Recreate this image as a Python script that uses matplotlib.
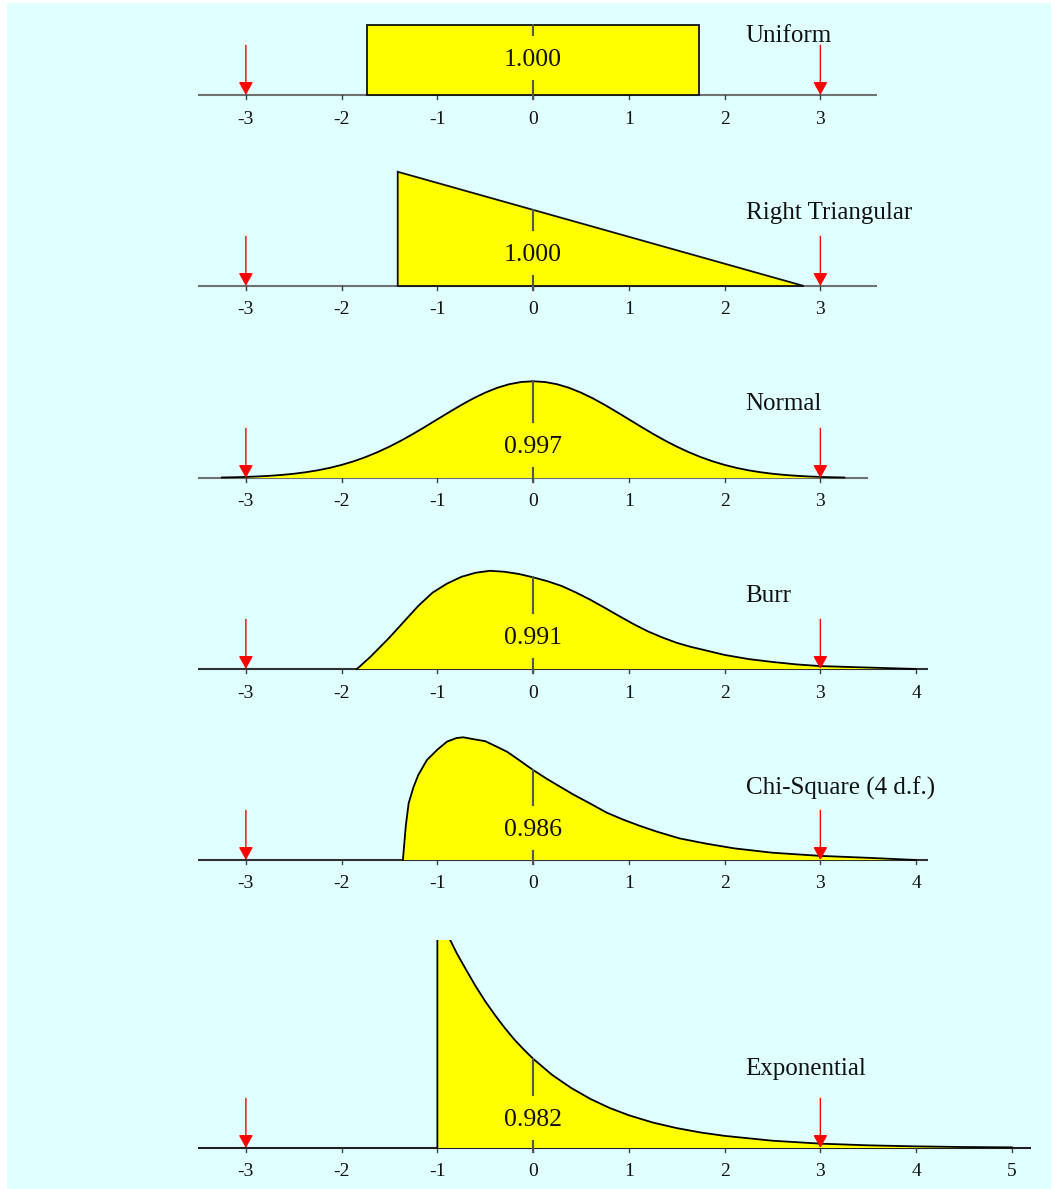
import matplotlib
matplotlib.use("Agg")
import matplotlib.pyplot as plt

# ---- data -------------------------------------------------------------
names = ["Uniform", "Right Triangular", "Normal", "Burr",
         "Chi-Square (4 d.f.)", "Exponential"]
coverage = ["1.000", "1.000", "0.997", "0.991", "0.986", "0.982"]

uniform_x = [-1.732, -1.732, 1.732, 1.732]
uniform_y = [0.0, 0.2887, 0.2887, 0.0]

tri_x = [-1.414, -1.414, 2.828]
tri_y = [0.0, 0.471, 0.0]

normal_x = [-3.25, -3.125, -3.0, -2.875, -2.75, -2.625, -2.5, -2.375, -2.25,
            -2.125, -2.0, -1.875, -1.75, -1.625, -1.5, -1.375, -1.25, -1.125,
            -1.0, -0.875, -0.75, -0.625, -0.5, -0.375, -0.25, -0.125, 0.0,
            0.125, 0.25, 0.375, 0.5, 0.625, 0.75, 0.875, 1.0, 1.125, 1.25,
            1.375, 1.5, 1.625, 1.75, 1.875, 2.0, 2.125, 2.25, 2.375, 2.5,
            2.625, 2.75, 2.875, 3.0, 3.125, 3.25]
normal_y = [0.002, 0.003, 0.0044, 0.0064, 0.0091, 0.0127, 0.0175, 0.0238,
            0.0317, 0.0417, 0.054, 0.0688, 0.0863, 0.1066, 0.1295, 0.155,
            0.1826, 0.2119, 0.242, 0.272, 0.3011, 0.3282, 0.3521, 0.3719,
            0.3867, 0.3958, 0.3989, 0.3958, 0.3867, 0.3719, 0.3521, 0.3282,
            0.3011, 0.272, 0.242, 0.2119, 0.1826, 0.155, 0.1295, 0.1066,
            0.0863, 0.0688, 0.054, 0.0417, 0.0317, 0.0238, 0.0175, 0.0127,
            0.0091, 0.0064, 0.0044, 0.003, 0.002]

burr_x = [-1.84, -1.7, -1.5, -1.35, -1.2, -1.05, -0.9, -0.75, -0.6, -0.45,
          -0.3, -0.15, 0.0, 0.15, 0.3, 0.45, 0.6, 0.75, 0.9, 1.05, 1.2,
          1.35, 1.5, 1.65, 1.8, 2.0, 2.25, 2.5, 2.75, 3.0, 3.25, 3.5, 3.75,
          4.0]
burr_y = [0.0, 0.05, 0.13, 0.195, 0.26, 0.315, 0.352, 0.38, 0.397, 0.405,
          0.401, 0.392, 0.378, 0.362, 0.342, 0.315, 0.285, 0.252, 0.218,
          0.185, 0.155, 0.13, 0.108, 0.091, 0.077, 0.058, 0.041, 0.029,
          0.019, 0.012, 0.009, 0.006, 0.003, 0.0]

chi_x = [-1.36, -1.33, -1.3, -1.25, -1.2, -1.11, -1.0, -0.9, -0.8, -0.73,
         -0.62, -0.5, -0.4, -0.27, -0.15, 0.0, 0.15, 0.3, 0.42, 0.6, 0.77,
         0.95, 1.12, 1.3, 1.53, 1.8, 2.1, 2.5, 3.0, 3.5, 4.0]
chi_y = [0.0, 0.14, 0.234, 0.30, 0.35, 0.412, 0.455, 0.488, 0.503, 0.506,
         0.498, 0.49, 0.471, 0.446, 0.413, 0.371, 0.333, 0.298, 0.27, 0.232,
         0.195, 0.165, 0.14, 0.116, 0.089, 0.068, 0.048, 0.03, 0.017, 0.009,
         0.0]

exp_x = [-1.0, -1.0, -0.9, -0.8, -0.7, -0.6, -0.5, -0.4, -0.3, -0.2, -0.1,
         0.0, 0.2, 0.4, 0.6, 0.8, 1.0, 1.25, 1.5, 1.75, 2.0, 2.5, 3.0, 3.5,
         4.0, 4.5, 5.0]
exp_y = [0.0, 1.0, 0.885, 0.805, 0.735, 0.667, 0.605, 0.549, 0.497, 0.449,
         0.407, 0.368, 0.301, 0.247, 0.202, 0.165, 0.135, 0.105, 0.082,
         0.064, 0.05, 0.03, 0.018, 0.011, 0.0067, 0.004, 0.0025]

curves = [(uniform_x, uniform_y), (tri_x, tri_y), (normal_x, normal_y),
          (burr_x, burr_y), (chi_x, chi_y), (exp_x, exp_y)]
axis_end = [3.59, 3.59, 3.5, 4.12, 4.12, 5.2]
tick_values = [list(range(-3, 4)), list(range(-3, 4)), list(range(-3, 4)),
               list(range(-3, 5)), list(range(-3, 5)), list(range(-3, 6))]
zero_height = [0.2887, 0.314, 0.3989, 0.378, 0.371, 0.368]

# ---- layout (pixels) -------------------------------------------------
W, H = 1051, 1189
S = 242.5              # pixels per unit of density
baseline_px = [95, 286, 478, 669, 860, 1148]
ytop = [0.36, 0.6, 0.6, 0.6, 0.6, 0.858]
YMIN = -0.15
label_off_px = [35, 31, 31, 31, 30, 28]
name_off_px = [59, 73, 74, 73, 72, 79]
axis_color = ["#707070", "#707070", "#707070", "#303030", "#303030", "#202020"]

BG = "#E0FFFF"
FILL = "#FFFF00"
SERIF = ["Liberation Serif", "DejaVu Serif"]

fig = plt.figure(figsize=(W / 100, H / 100), dpi=100)
fig.patch.set_facecolor("white")

# cyan backdrop behind all panels
bg_ax = fig.add_axes([7 / W, 0, 1 - 7 / W, 1 - 3 / H], zorder=-10)
bg_ax.set_facecolor(BG)
bg_ax.set_xticks([])
bg_ax.set_yticks([])
for sp in bg_ax.spines.values():
    sp.set_visible(False)

x0_px, x1_px = 198, 1031
for i in range(6):
    b = baseline_px[i]
    bottom_px = b - YMIN * S
    height_px = (ytop[i] - YMIN) * S
    ax = fig.add_axes([x0_px / W, 1 - bottom_px / H,
                       (x1_px - x0_px) / W, height_px / H])
    ax.set_xlim(-3.5, 5.2)
    ax.set_ylim(YMIN, ytop[i])
    ax.axis("off")

    # axis line and ticks
    ax.plot([-3.5, axis_end[i]], [0, 0], color=axis_color[i], lw=1.5,
            zorder=1, solid_capstyle="butt")
    tk = 4 / S
    for t in tick_values[i]:
        ax.plot([t, t], [0, -tk], color="#404040", lw=1.0, zorder=1)
        ax.text(t, -24 / S, str(t), ha="center", va="center",
                fontsize=14, family=SERIF, color="#111111")

    # density shape
    cx, cy = curves[i]
    if i < 2:
        ax.fill(cx, cy, facecolor=FILL, edgecolor="#111111", lw=1.3, zorder=2,
                joinstyle="miter")
    else:
        ax.fill_between(cx, 0, cy, facecolor=FILL, edgecolor="none", zorder=2)
        ax.plot(cx, cy, color="black", lw=1.3, zorder=3,
                solid_joinstyle="round")

    # zero line, interrupted by the coverage label
    lab = label_off_px[i] / S
    gap = 23 / S
    zc = "#555555"
    ax.plot([0, 0], [-tk, lab - gap + 2 / S], color=zc, lw=1.5, zorder=4)
    ax.plot([0, 0], [lab + gap + 2 / S, zero_height[i]], color=zc, lw=1.5,
            zorder=4)
    ax.text(0, lab, coverage[i], ha="center", va="center", fontsize=18.5,
            family=SERIF, color="#111111", zorder=5)

    # distribution name
    ax.text(2.22, name_off_px[i] / S, names[i], ha="left", va="center",
            fontsize=18, family=SERIF, color="#111111", zorder=5)

    # red arrows at +-3
    for xa in (-3, 3):
        ax.annotate("", xy=(xa, 0), xytext=(xa, 0.205),
                    arrowprops=dict(arrowstyle="-|>,head_length=0.6,head_width=0.33",
                                    mutation_scale=13, color="#FF0000", lw=1.0,
                                    shrinkA=0, shrinkB=0),
                    zorder=6, annotation_clip=False)

fig.savefig("out.png", dpi=100, facecolor=fig.get_facecolor())
